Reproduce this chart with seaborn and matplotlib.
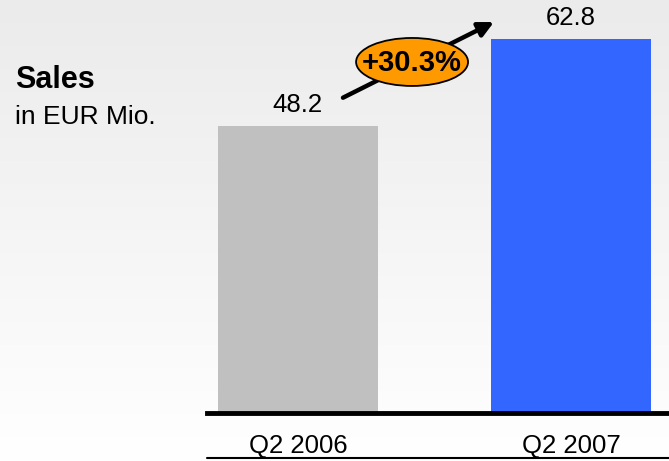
import numpy as np
import pandas as pd
import matplotlib
matplotlib.use('Agg')
import matplotlib.pyplot as plt
from matplotlib.patches import Ellipse
from matplotlib.lines import Line2D
import seaborn as sns

sns.set_style('white')
plt.rcParams['font.family'] = ['Liberation Sans', 'DejaVu Sans']
plt.rcParams['text.color'] = 'black'
plt.rcParams['xtick.color'] = 'black'

# data
quarters = ['Q2 2006', 'Q2 2007']
sales = [48.2, 62.8]
bar_colors = ['#c0c0c0', '#3366ff']
growth_label = '+30.3%'

df = pd.DataFrame({'quarter': quarters, 'sales': sales})

fig = plt.figure(figsize=(6.69, 4.61), dpi=100)

# gradient background
bg = fig.add_axes([0, 0, 1, 1], zorder=0)
grad = np.linspace(0, 1, 256).reshape(-1, 1)
bg.imshow(grad, aspect='auto', cmap=matplotlib.colors.LinearSegmentedColormap.from_list(
    'bg', ['#ebebeb', '#ffffff']), extent=[0, 1, 0, 1], origin='upper')
bg.axis('off')

W, H = 669, 461
ax = fig.add_axes([207 / W, 48 / H, 1 - 207 / W, 413 / H], zorder=1)
ax.set_facecolor('none')

sns.barplot(data=df, x='quarter', y='sales', hue='quarter', palette=bar_colors,
            width=0.586, legend=False, ax=ax, saturation=1, linewidth=0)

ax.set_xlim(-0.333, 1.359)
ax.set_ylim(0, 413 / 5.96)
ax.set_xlabel('')
ax.set_ylabel('')
ax.set_yticks([])
ax.tick_params(axis='x', length=0, labelsize=18.5, pad=15, labelcolor='black')
for s in ['top', 'right', 'left']:
    ax.spines[s].set_visible(False)
ax.spines['bottom'].set_linewidth(3.5)
ax.spines['bottom'].set_color('black')

# value labels
for i, v in enumerate(sales):
    ax.text(i, v + 1.5, f'{v:.1f}', ha='center', va='bottom', fontsize=18.5)

# growth arrow with ellipse
tail = (0.165, sales[0] + 4.7)
head = (1 - 0.282, sales[1] + 2.8)
ax.annotate('', xy=head, xytext=tail,
            arrowprops=dict(arrowstyle='-|>,head_length=0.9,head_width=0.45',
                            lw=3.2, color='black', shrinkA=0, shrinkB=0),
            annotation_clip=False, zorder=3)
cx, cy = 0.418, 58.9
ax.add_patch(Ellipse((cx, cy), 0.41, 8.05, facecolor='#ff9900', edgecolor='black',
                     lw=1.3, zorder=4, clip_on=False))
ax.text(cx, cy - 0.2, growth_label, ha='center', va='center', fontsize=21,
        fontweight='bold', zorder=5)

# left title
fig.text(15 / W, 1 - 80 / H, 'Sales', fontsize=22, fontweight='bold', va='center', ha='left')
fig.text(15 / W, 1 - 117 / H, 'in EUR Mio.', fontsize=19, va='center', ha='left')

# bottom thin rule
fig.add_artist(Line2D([207 / W, 1], [3 / H, 3 / H], color='black', lw=1.5))

fig.savefig('out.png', dpi=100)
